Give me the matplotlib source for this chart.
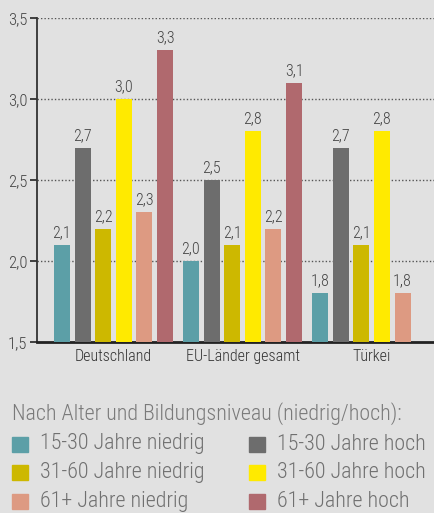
import numpy as np
import matplotlib.pyplot as plt
from matplotlib.patches import Rectangle

# Daten
laender = ['Deutschland', 'EU-Länder gesamt', 'Türkei']
gruppen = ['15-30 Jahre niedrig', '15-30 Jahre hoch',
           '31-60 Jahre niedrig', '31-60 Jahre hoch',
           '61+ Jahre niedrig', '61+ Jahre hoch']
werte_15_30_niedrig = [2.1, 2.0, 1.8]
werte_15_30_hoch = [2.7, 2.5, 2.7]
werte_31_60_niedrig = [2.2, 2.1, 2.1]
werte_31_60_hoch = [3.0, 2.8, 2.8]
werte_61_niedrig = [2.3, 2.2, 1.8]
werte_61_hoch = [3.3, 3.1, np.nan]
y_ticks = [1.5, 2.0, 2.5, 3.0, 3.5]
legenden_titel = 'Nach Alter und Bildungsniveau (niedrig/hoch):'

serien = [werte_15_30_niedrig, werte_15_30_hoch, werte_31_60_niedrig,
          werte_31_60_hoch, werte_61_niedrig, werte_61_hoch]
farben = ['#5c9fa7', '#6d6d6d', '#cdb800', '#ffea00', '#dd9a82', '#b0696e']

bg = '#e1e1e1'
plt.rcParams['font.family'] = ['Roboto Condensed', 'Roboto', 'DejaVu Sans']
plt.rcParams['font.weight'] = 'light'

fig = plt.figure(figsize=(4.34, 5.13), dpi=100, facecolor=bg)
ax = fig.add_axes([37/434, 171/513, 397/434, 324/513])
ax.set_facecolor(bg)

x = np.arange(len(laender))
schritt = 0.16
breite = 0.124
for i, (werte, farbe) in enumerate(zip(serien, farben)):
    pos = x + (i - 2.5) * schritt
    ax.bar(pos, werte, width=breite, color=farbe, zorder=3)
    for p, w in zip(pos, werte):
        if not np.isnan(w):
            ax.text(p, w + 0.03, f'{w:.1f}'.replace('.', ','), ha='center',
                    va='bottom', fontsize=11.5, color='#444444')

ax.set_ylim(1.5, 3.5)
ax.set_xlim(-0.593, 2.484)
ax.set_yticks(y_ticks)
ax.set_yticklabels([f'{t:.1f}'.replace('.', ',') for t in y_ticks],
                   fontsize=12, color='#444444')
ax.set_xticks(x)
ax.set_xticklabels(laender, fontsize=11.5, color='#333333')
ax.tick_params(axis='x', length=0, pad=5)
ax.tick_params(axis='y', length=5, width=1.3, color='#333333', pad=2)

for t in y_ticks[1:]:
    ax.axhline(t, color='#555555', lw=1, ls=(0, (1, 1.5)), zorder=1)

for s in ['top', 'right']:
    ax.spines[s].set_visible(False)
ax.spines['left'].set_color('#333333')
ax.spines['left'].set_linewidth(1.3)
ax.spines['bottom'].set_color('#222222')
ax.spines['bottom'].set_linewidth(2)

# Legende
fig.text(12/434, 1 - 414/513, legenden_titel, fontsize=15.8, color='#7a7a7a',
         va='center', ha='left')
zeilen_y = [444, 472.5, 501.5]
spalten_x = [12, 249]
for i, (name, farbe) in enumerate(zip(gruppen, farben)):
    sx = spalten_x[i % 2]
    sy = zeilen_y[i // 2]
    fig.patches.append(Rectangle((sx/434, 1 - (sy + 7.5)/513), 16/434, 15/513,
                                 transform=fig.transFigure, color=farbe))
    fig.text((sx + 28)/434, 1 - sy/513, name, fontsize=15.8, color='#707070',
             va='center', ha='left')

fig.savefig('out.png', dpi=100, facecolor=bg)
